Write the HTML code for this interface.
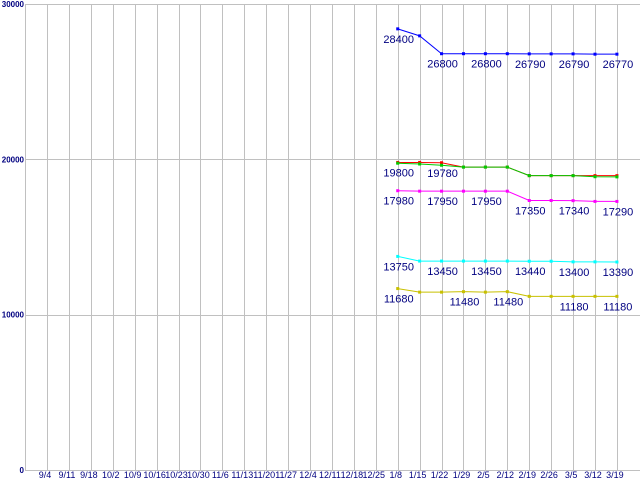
<!DOCTYPE html>
<html><head><meta charset="utf-8"><style>
html,body{margin:0;padding:0;background:#fff;}
svg{display:block;font-family:"Liberation Sans",sans-serif;}
</style></head><body>
<svg id="chart" width="640" height="480" viewBox="0 0 640 480" xmlns="http://www.w3.org/2000/svg">
<g id="grid"></g>
<g id="xlabels"></g>
<g id="ylabels"></g>
<g id="series"></g>
</svg>
<script>
const categories = ["9/4","9/11","9/18","10/2","10/9","10/16","10/23","10/30","11/6","11/13","11/20","11/27","12/4","12/11","12/18","12/25","1/8","1/15","1/22","1/29","2/5","2/12","2/19","2/26","3/5","3/12","3/19"];
const yTicks = [0,10000,20000,30000];
const dataStart = 16;
const blueVals = [28400,27950,26800,26800,26800,26800,26790,26790,26790,26770,26770];
const redVals = [19800,19800,19780,19500,19500,19500,18950,18950,18950,18950,18950];
const greenVals = [19750,19700,19620,19500,19500,19500,18950,18950,18950,18880,18870];
const magentaVals = [17980,17950,17950,17950,17950,17950,17350,17350,17340,17290,17290];
const cyanVals = [13750,13450,13450,13450,13450,13450,13440,13440,13400,13400,13390];
const yellowVals = [11680,11450,11450,11480,11450,11480,11180,11180,11180,11180,11180];
const blueLabels = [0,2,4,6,8,10];
const redLabels = [0,2];
const magentaLabels = [0,2,4,6,8,10];
const cyanLabels = [0,2,4,6,8,10];
const yellowLabels = [0,3,5,8,10];

const NS="http://www.w3.org/2000/svg";
const X0=47, DX=21.92, Y0=470, YT=4, YMAX=30000;
const xs=i=>X0+i*DX;
const ys=v=>Y0-(v/YMAX)*(Y0-YT);
function mk(tag,attrs,parent){const e=document.createElementNS(NS,tag);for(const k in attrs)e.setAttribute(k,attrs[k]);parent.appendChild(e);return e;}
const grid=document.getElementById('grid');
categories.forEach((c,i)=>{
  const gx=Math.round(xs(i))+0.5;
  const l=mk('line',{x1:gx,x2:gx,y1:YT,y2:Y0,stroke:'#c0c0c0','stroke-width':1},grid);
  
  
  const t=mk('text',{x:xs(i)-2,y:478,'text-anchor':'middle','font-size':9,fill:'#000080'},document.getElementById('xlabels'));
  
  
  t.textContent=c;
});
yTicks.forEach(v=>{
  if(v>0){const gy=Math.round(ys(v))+0.5;const l=mk('line',{x1:25,x2:640,y1:gy,y2:gy,stroke:'#c0c0c0','stroke-width':1},grid);
  
  }
  const t=mk('text',{x:24,y:ys(v)+3,'text-anchor':'end','font-size':8,'font-weight':'bold',fill:'#000080'},document.getElementById('ylabels'));
  
  
  t.textContent=String(v);
});
const ax=mk('line',{x1:25.5,x2:25.5,y1:YT,y2:Y0,stroke:'#c0c0c0','stroke-width':1},grid);


const bx=mk('line',{x1:25,x2:640,y1:Y0+0.5,y2:Y0+0.5,stroke:'#c0c0c0','stroke-width':1},grid);



const sg=document.getElementById('series');
function drawSeries(vals,color,labels,name){
  const g=mk('g',{},sg);
  
  
  const pts=vals.map((v,i)=>xs(dataStart+i)+','+ys(v)).join(' ');
  const pl=mk('polyline',{points:pts,fill:'none',stroke:color,'stroke-width':1},g);
  
  
  vals.forEach((v,i)=>{
    const r=mk('rect',{x:xs(dataStart+i)-1.5,y:ys(v)-1.5,width:3,height:3,fill:color},g);
    
    
  });
  labels.forEach(i=>{
    const t=mk('text',{x:xs(dataStart+i)+1,y:ys(vals[i])+14,'text-anchor':'middle','font-size':11,fill:'#000080'},g);
    
    
    t.textContent=String(vals[i]);
  });
}
drawSeries(blueVals,'#0000ff',blueLabels,'blue');
drawSeries(redVals,'#ff0000',redLabels,'red');
drawSeries(greenVals,'#00cc00',[],'green');
drawSeries(magentaVals,'#ff00ff',magentaLabels,'magenta');
drawSeries(cyanVals,'#00ffff',cyanLabels,'cyan');
drawSeries(yellowVals,'#c8c000',yellowLabels,'yellow');
</script>
</body></html>
